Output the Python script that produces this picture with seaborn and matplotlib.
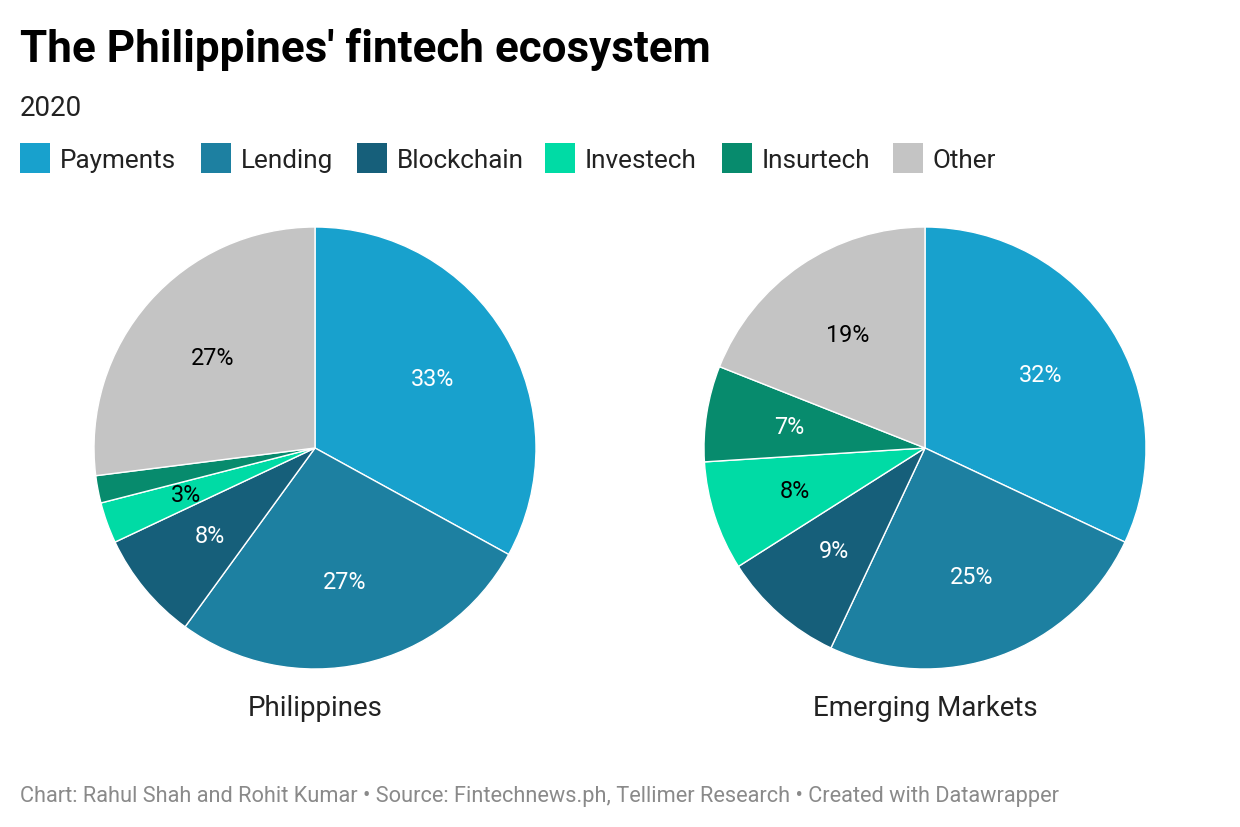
import math
import matplotlib
matplotlib.use("Agg")
import matplotlib.pyplot as plt
import seaborn as sns
from matplotlib.patches import Rectangle

categories = ["Payments", "Lending", "Blockchain", "Investech", "Insurtech", "Other"]
philippines = [33, 27, 8, 3, 2, 27]
emerging = [32, 25, 9, 8, 7, 19]
panel_names = ["Philippines", "Emerging Markets"]
colors = ["#18a1cd", "#1d80a1", "#165f7a", "#00dba5", "#078b6d", "#c4c4c4"]
label_colors = ["white", "white", "white", "black", "white", "black"]

sns.set_theme(style="white")
plt.rcParams['font.family'] = ['Roboto', 'DejaVu Sans']

W, H = 1240, 828
fig = plt.figure(figsize=(W / 100, H / 100), dpi=100)

def fx(x):
    return x / W

def fy(y):
    return 1 - y / H

# Title, subtitle
fig.text(fx(20), fy(62), "The Philippines' fintech ecosystem", fontsize=31.7,
         fontweight='bold', color='#000000', va='baseline', ha='left')
fig.text(fx(20), fy(116), "2020", fontsize=20, color='#222222', va='baseline', ha='left')

# Legend
leg_x = [20, 201, 357, 545, 722, 893]
for x, cat, col in zip(leg_x, categories, colors):
    fig.patches.append(Rectangle((fx(x), fy(174)), fx(30), 30 / H, transform=fig.transFigure,
                                 facecolor=col, edgecolor='none'))
    fig.text(fx(x + 40), fy(168), cat, fontsize=18.8, color='#222222', va='baseline', ha='left')

R = 221
centers = [315, 925]
cy = 449
for cx, vals, name in zip(centers, [philippines, emerging], panel_names):
    ax = fig.add_axes([fx(cx - R), (H - cy - R) / H, 2 * R / W, 2 * R / H])
    wedges, _ = ax.pie(vals, colors=colors, startangle=90, counterclock=False,
                       wedgeprops=dict(edgecolor='white', linewidth=1.0), radius=1.0)
    ax.set_xlim(-1.0, 1.0)
    ax.set_ylim(-1.0, 1.0)
    ax.set_aspect('equal')
    ax.axis('off')
    total = sum(vals)
    cum = 0
    for v, lc in zip(vals, label_colors):
        mid = (cum + v / 2) / total * 2 * math.pi
        cum += v
        if v < 3:
            continue
        r = 0.62
        ax.text(r * math.sin(mid), r * math.cos(mid), f"{v}%", ha='center', va='center',
                fontsize=16.8, color=lc)
    fig.text(fx(cx), fy(709), name, fontsize=20, color='#222222', ha='center', va='center')

fig.text(fx(20), fy(802), "Chart: Rahul Shah and Rohit Kumar • Source: Fintechnews.ph, Tellimer Research • Created with Datawrapper",
         fontsize=15.7, color='#8a8a8a', va='baseline', ha='left')

fig.savefig("out.png", dpi=100, facecolor='white')
